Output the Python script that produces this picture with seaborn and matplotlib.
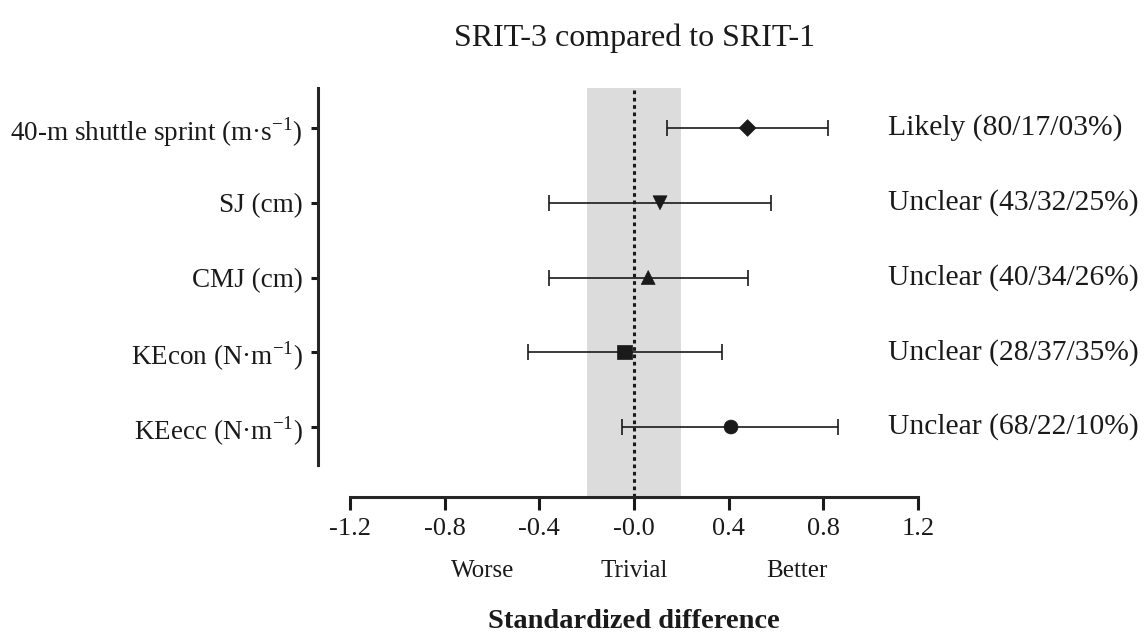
import pandas as pd
import seaborn as sns
import matplotlib.pyplot as plt

measures = ["40-m shuttle sprint (m\u00b7s$^{\\mathregular{-1}}$)", "SJ (cm)", "CMJ (cm)",
            "KEcon (N\u00b7m$^{\\mathregular{-1}}$)", "KEecc (N\u00b7m$^{\\mathregular{-1}}$)"]
effect = [0.48, 0.11, 0.06, -0.04, 0.41]
ci_low = [0.14, -0.36, -0.36, -0.45, -0.05]
ci_high = [0.82, 0.58, 0.48, 0.37, 0.86]
verdicts = ["Likely (80/17/03%)", "Unclear (43/32/25%)", "Unclear (40/34/26%)",
            "Unclear (28/37/35%)", "Unclear (68/22/10%)"]
marker_shapes = ["D", "v", "^", "s", "o"]
marker_areas = [72, 100, 100, 105, 100]
trivial_lo, trivial_hi = -0.2, 0.2
x_ticks = [-1.2, -0.8, -0.4, 0.0, 0.4, 0.8, 1.2]
x_ticklabels = ["-1.2", "-0.8", "-0.4", "-0.0", "0.4", "0.8", "1.2"]
zone_labels = ["Worse", "Trivial", "Better"]
zone_pos = [-0.64, 0.0, 0.69]

df = pd.DataFrame({"measure": measures, "effect": effect,
                   "low": ci_low, "high": ci_high})

sns.set_theme(style="ticks")
plt.rcParams["font.family"] = ["Liberation Serif", "DejaVu Serif"]
plt.rcParams["mathtext.fontset"] = "custom"
plt.rcParams["mathtext.rm"] = "Liberation Serif"

fig = plt.figure(figsize=(11.46, 6.35), dpi=100)
ax = fig.add_axes([350 / 1146, 1 - 497 / 635, 568 / 1146, 409 / 635])
ink = "#1a1a1a"

# trivial zone and the zero line
ax.axvspan(trivial_lo, trivial_hi, color="#dcdcdc", zorder=0, lw=0)
ax.axvline(0, color=ink, ls=(0, (1.2, 1.2)), lw=2.2, zorder=1)

ypos = list(range(len(measures)))
ax.errorbar(df["effect"], ypos,
            xerr=[df["effect"] - df["low"], df["high"] - df["effect"]],
            fmt="none", ecolor=ink, elinewidth=1.2, capsize=5.5, capthick=1.2, zorder=2)
sns.scatterplot(data=df, x="effect", y="measure", style="measure", size="measure",
                markers=marker_shapes, sizes=dict(zip(measures, marker_areas)),
                color=ink, edgecolor=ink, linewidth=0.5,
                legend=False, ax=ax, zorder=3)

ax.set_xlim(-1.2, 1.2)
ax.set_ylim(4.936, -0.535)
ax.set_xticks(x_ticks)
ax.set_xticklabels(x_ticklabels)
ax.set_yticks(ypos)
ax.set_yticklabels(measures)
ax.set_xlabel("")
ax.set_ylabel("")

for side in ["top", "right"]:
    ax.spines[side].set_visible(False)
ax.spines["left"].set_position(("outward", 23))
ax.spines["left"].set_bounds(-0.535, 4.51)
ax.spines["left"].set_linewidth(2.2)
ax.spines["bottom"].set_linewidth(2.2)
ax.tick_params(axis="x", length=9, width=2.2, labelsize=19, pad=6, colors=ink)
ax.tick_params(axis="y", length=5, width=2.2, labelsize=19.5, pad=6, colors=ink)

for i, txt in enumerate(verdicts):
    ax.text(1.073, i, txt, ha="left", va="center", fontsize=21.3, color=ink, clip_on=False)

for lbl, xp in zip(zone_labels, zone_pos):
    ax.text(xp, -0.18, lbl, transform=ax.get_xaxis_transform(), ha="center",
            va="center", fontsize=18, color=ink)

fig.text(634 / 1146, 1 - 38 / 635, "SRIT-3 compared to SRIT-1", ha="center",
         va="center", fontsize=23, color=ink)
fig.text(634 / 1146, 1 - 622 / 635, "Standardized difference", ha="center",
         va="center", fontsize=20.5, fontweight="bold", color=ink)

fig.savefig("out.png", dpi=100)
